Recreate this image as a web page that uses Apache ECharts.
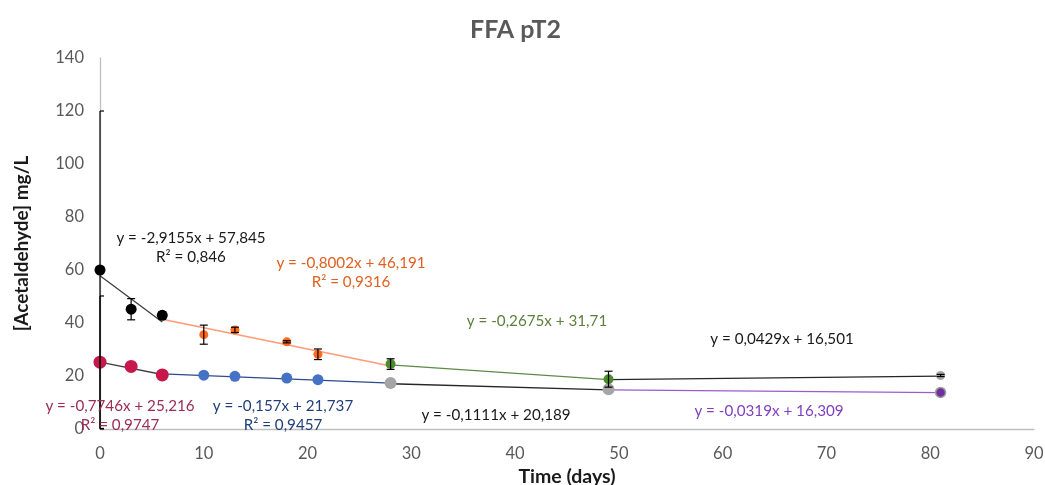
<!DOCTYPE html>
<html>
<head>
<meta charset="utf-8">
<title>FFA pT2</title>
<script src="https://cdn.jsdelivr.net/npm/echarts@6/dist/echarts.min.js"></script>
<style>
  html, body { margin: 0; padding: 0; background: #fff; }
  #chart { width: 1045px; height: 485px; }
</style>
</head>
<body>
<div id="chart"></div>
<script>
// Measured points (time in days, acetaldehyde mg/L, error half-width)
const blackX = [0, 3, 6];
const blackY = [60, 45.2, 42.9];
const blackErr = [60, 4, 1.3];

const orangeX = [10, 13, 18, 21];
const orangeY = [35.6, 37.4, 32.9, 28.2];
const orangeErr = [3.6, 1, 0.4, 2];

const greenX = [28, 49];
const greenY = [24.5, 18.8];
const greenErr = [2, 3];

const greyTopX = [81];
const greyTopY = [20.2];
const greyTopErr = [0.4];

const crimsonX = [0, 3, 6];
const crimsonY = [25.2, 23.6, 20.4];
const crimsonErr = [25, 0, 0];

const blueX = [10, 13, 18, 21];
const blueY = [20.3, 19.9, 19.2, 18.6];

const greyX = [28, 49];
const greyY = [17.4, 15.0];

const purpleX = [81];
const purpleY = [13.8];

// Linear fits: slope, intercept, fitted range, R²
const fitSlope     = [-2.9155, -0.8002, -0.2675, 0.0429, -0.7746, -0.157, -0.1111, -0.0319];
const fitIntercept = [57.845, 46.191, 31.71, 16.501, 25.216, 21.737, 20.189, 16.309];
const fitFrom      = [0, 6, 28, 49, 0, 6, 28, 49];
const fitTo        = [6, 28, 49, 81, 6, 28, 49, 81];
const fitR2        = ['0,846', '0,9316', null, null, '0,9747', '0,9457', null, null];

// Axis ticks
const xTicks = [0, 10, 20, 30, 40, 50, 60, 70, 80, 90];
const yTicks = [0, 20, 40, 60, 80, 100, 120, 140];

const fitColors = ['#3f3f3f', '#ff9c78', '#5f8a47', '#262626', '#3f3f3f', '#2c4a8c', '#262626', '#9a5cd0'];
const fitLabelColors = ['#1a1a1a', '#e06020', '#5b7f3c', '#1a1a1a', '#9b2d52', '#203f7a', '#1a1a1a', '#7f3fbf'];
// label anchor (centre x, middle y of first line) in pixels
const fitLabelPos = [[191, 238], [351, 263], [537, 321], [782, 339], [120, 406], [283, 406], [496, 415], [769, 411]];

const zip = (xs, ys) => xs.map((x, i) => [x, ys[i]]);
const zip3 = (xs, ys, es) => xs.map((x, i) => [x, ys[i], es[i]]);
const fmt = v => String(v).replace('.', ',');

function eqText(i) {
  return 'y = ' + fmt(fitSlope[i]) + 'x + ' + fmt(fitIntercept[i]);
}

const FONT = 'Lato, "Open Sans", sans-serif';

function errorBars(name, xs, ys, es) {
  return {
    name: name,
    type: 'custom',
    clip: false,
    z: 6,
    data: zip3(xs, ys, es).filter(d => d[2] > 0),
    renderItem: function (params, api) {
      const x = api.value(0), y = api.value(1), e = api.value(2);
      const top = api.coord([x, y + e]);
      const bot = api.coord([x, y - e]);
      const left = params.coordSys.x;
      const w = 4;
      const cx0 = Math.max(top[0] - w, left);
      const st = { stroke: '#000', lineWidth: 1.2 };
      return {
        type: 'group',
        children: [
          { type: 'line', shape: { x1: top[0], y1: top[1], x2: bot[0], y2: bot[1] }, style: st },
          { type: 'line', shape: { x1: cx0, y1: top[1], x2: top[0] + w, y2: top[1] }, style: st },
          { type: 'line', shape: { x1: cx0, y1: bot[1], x2: bot[0] + w, y2: bot[1] }, style: st }
        ]
      };
    }
  };
}

function markers(name, xs, ys, size, color, border) {
  return {
    name: name,
    type: 'scatter',
    z: 5,
    symbol: 'circle',
    symbolSize: size,
    itemStyle: { color: color, borderColor: border || color, borderWidth: border ? 1.5 : 0, opacity: 1 },
    data: zip(xs, ys),
    emphasis: { disabled: true }
  };
}

const fitSeries = fitSlope.map((m, i) => ({
  name: 'fit' + i,
  type: 'line',
  z: 3,
  symbol: 'none',
  lineStyle: { color: fitColors[i], width: i === 1 ? 1.6 : 1.3 },
  data: [fitFrom[i], fitTo[i]].map(x => [x, m * x + fitIntercept[i]]),
  emphasis: { disabled: true }
}));

const labelFont = '15.2px ' + FONT;
const labelGraphics = [];
fitSlope.forEach((m, i) => {
  const [cx, cy] = fitLabelPos[i];
  labelGraphics.push({
    type: 'text', x: cx, y: cy, z: 10,
    style: { text: eqText(i), fill: fitLabelColors[i], font: labelFont, textAlign: 'center', textVerticalAlign: 'middle' }
  });
  if (fitR2[i]) {
    labelGraphics.push({
      type: 'text', x: cx, y: cy + 19, z: 10,
      style: { text: 'R² = ' + fitR2[i], fill: fitLabelColors[i], font: labelFont, textAlign: 'center', textVerticalAlign: 'middle' }
    });
  }
});

const chart = echarts.init(document.getElementById('chart'), null, { renderer: 'canvas' });
chart.setOption({
  animation: false,
  backgroundColor: '#ffffff',
  title: {
    text: 'FFA pT2',
    left: 465,
    top: 12,
    textStyle: { color: '#595959', fontSize: 25, fontWeight: 'bold', fontFamily: FONT }
  },
  grid: { left: 100, right: 11, top: 58, bottom: 56, containLabel: false, outerBoundsMode: 'none' },
  xAxis: {
    type: 'value',
    min: xTicks[0],
    max: xTicks[xTicks.length - 1],
    interval: 10,
    name: 'Time (days)',
    nameLocation: 'middle',
    nameGap: 37,
    nameTextStyle: { color: '#1a1a1a', fontSize: 19.5, fontWeight: 'bold', fontFamily: FONT },
    axisLine: { show: true, onZero: false, lineStyle: { color: '#bfbfbf', width: 1.3 } },
    axisTick: { show: false },
    splitLine: { show: false },
    axisLabel: { color: '#595959', fontSize: 16.5, fontFamily: FONT, margin: 16 }
  },
  yAxis: {
    type: 'value',
    min: yTicks[0],
    max: yTicks[yTicks.length - 1],
    interval: 20,
    name: '[Acetaldehyde] mg/L',
    nameLocation: 'middle',
    nameGap: 69,
    nameTextStyle: { color: '#1a1a1a', fontSize: 19, fontWeight: 'bold', fontFamily: FONT },
    axisLine: { show: true, lineStyle: { color: '#bfbfbf', width: 1.3 } },
    axisTick: { show: false },
    splitLine: { show: false },
    axisLabel: { color: '#595959', fontSize: 16.5, fontFamily: FONT, margin: 16 }
  },
  series: [
    ...fitSeries,
    markers('grey', greyX, greyY, 12, '#a5a5a5'),
    markers('purple', purpleX, purpleY, 10, '#7030a0', '#a0a0a0'),
    markers('blue', blueX, blueY, 11, '#4472c4'),
    markers('crimson', crimsonX, crimsonY, 13, '#c8174a'),
    markers('greyTop', greyTopX, greyTopY, 9, '#a5a5a5'),
    markers('green', greenX, greenY, 10, '#4e8a2e'),
    markers('orange', orangeX, orangeY, 9, '#ff6a1f'),
    markers('black', blackX, blackY, 11, '#000000'),
    errorBars('blackErr', blackX, blackY, blackErr),
    errorBars('orangeErr', orangeX, orangeY, orangeErr),
    errorBars('greenErr', greenX, greenY, greenErr),
    errorBars('greyTopErr', greyTopX, greyTopY, greyTopErr),
    errorBars('crimsonErr', crimsonX, crimsonY, crimsonErr)
  ],
  graphic: labelGraphics
});
</script>
</body>
</html>
